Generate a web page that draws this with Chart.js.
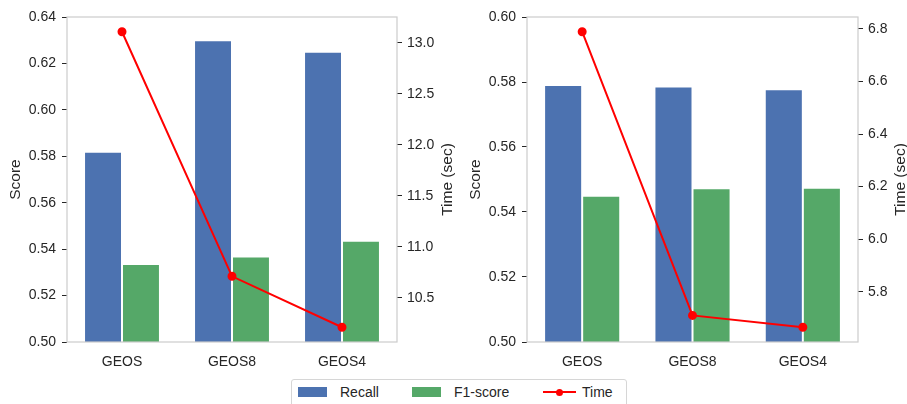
<!DOCTYPE html>
<html>
<head>
<meta charset="utf-8">
<script src="https://cdn.jsdelivr.net/npm/chart.js@4.4.1/dist/chart.umd.min.js"></script>
<style>
    html, body { margin: 0; padding: 0; background: #fff; }
    body { width: 907px; height: 404px; position: relative; overflow: hidden; font-family: "Liberation Sans", Arial, sans-serif; }
    canvas { position: absolute; top: 0; }
    #leftChart { left: 0; }
    #rightChart { left: 445px; }
    #legend { position: absolute; left: 291px; top: 379px; width: 334px; height: 34px; border: 1px solid #d6d6d6; border-radius: 3px; background: #fff; font-size: 14px; color: #262626; }
    #legend .sw { position: absolute; top: 7px; width: 29px; height: 10px; }
    #legend .txt { position: absolute; top: 4px; line-height: 16px; }
    #legend .ln { position: absolute; top: 11px; width: 33px; height: 2px; background: #ff0000; }
    #legend .dot { position: absolute; top: 8.5px; width: 7px; height: 7px; border-radius: 50%; background: #ff0000; }
</style>
</head>
<body>
<canvas id="leftChart" width="465" height="375"></canvas>
<canvas id="rightChart" width="462" height="375"></canvas>
<div id="legend">
    <div class="sw" style="left:6px; background:#4c72b0;"></div>
    <div class="txt" style="left:48px;">Recall</div>
    <div class="sw" style="left:120px; background:#55a868;"></div>
    <div class="txt" style="left:162px;">F1-score</div>
    <div class="ln" style="left:251px;"></div>
    <div class="dot" style="left:264px;"></div>
    <div class="txt" style="left:290px;">Time</div>
</div>
<script>
const categories = ['GEOS', 'GEOS8', 'GEOS4'];

// left panel
const recallLeft = [0.582, 0.630, 0.625];
const f1Left = [0.5336, 0.5368, 0.5436];
const timeLeft = [13.11, 10.71, 10.21];
const scoreTicksLeft = [0.50, 0.52, 0.54, 0.56, 0.58, 0.60, 0.62, 0.64];
const timeTicksLeft = [10.5, 11.0, 11.5, 12.0, 12.5, 13.0];

// right panel
const recallRight = [0.5791, 0.5786, 0.5778];
const f1Right = [0.5450, 0.5473, 0.5475];
const timeRight = [6.789, 5.710, 5.665];
const scoreTicksRight = [0.50, 0.52, 0.54, 0.56, 0.58, 0.60];
const timeTicksRight = [5.8, 6.0, 6.2, 6.4, 6.6, 6.8];

const FONT = '"Liberation Sans", Arial, sans-serif';
Chart.defaults.font.family = FONT;
Chart.defaults.font.size = 14;
Chart.defaults.color = '#262626';

// frame around plot + axis titles rotated like matplotlib (both read bottom to top)
const frameAndTitles = {
    id: 'frameAndTitles',
    afterDatasetsDraw(chart) {
        const { ctx, chartArea: a } = chart;
        ctx.save();
        ctx.strokeStyle = '#cccccc';
        ctx.lineWidth = 1.2;
        ctx.strokeRect(a.left, a.top, a.width, a.height);
        ctx.restore();
    },
    afterDraw(chart) {
        const { ctx, chartArea: a } = chart;
        ctx.save();
        ctx.font = '14px ' + FONT;
        const widest = (scale) => Math.max(...scale.ticks.map(t => ctx.measureText(t.label).width));
        const lx = a.left - 5 - 6 - widest(chart.scales.y) - 4 - 9;
        const rx = a.right + 5 + 5 + widest(chart.scales.y1) + 4 + 9;
        const midY = (a.top + a.bottom) / 2;
        ctx.font = '15.5px ' + FONT;
        ctx.fillStyle = '#262626';
        ctx.textAlign = 'center';
        ctx.textBaseline = 'middle';
        [[lx, 'Score'], [rx, 'Time (sec)']].forEach(([x, text]) => {
            ctx.save();
            ctx.translate(x, midY);
            ctx.rotate(-Math.PI / 2);
            ctx.fillText(text, 0, 0);
            ctx.restore();
        });
        ctx.restore();
    }
};

function makeChart(id, recall, f1, time, scoreTicks, timeTicks, timeMin, timeMax, leftW, rightW) {
    const ctx = document.getElementById(id).getContext('2d');
    return new Chart(ctx, {
        data: {
            labels: categories,
            datasets: [
                {
                    type: 'line',
                    label: 'Time',
                    data: time,
                    yAxisID: 'y1',
                    borderColor: '#ff0000',
                    backgroundColor: '#ff0000',
                    borderWidth: 2,
                    pointRadius: 3.5,
                    tension: 0,
                    order: 0
                },
                {
                    type: 'bar',
                    label: 'Recall',
                    data: recall,
                    yAxisID: 'y',
                    backgroundColor: '#4c72b0',
                    borderColor: '#ffffff',
                    borderWidth: 1,
                    barPercentage: 1.0,
                    categoryPercentage: 0.69,
                    order: 1
                },
                {
                    type: 'bar',
                    label: 'F1-score',
                    data: f1,
                    yAxisID: 'y',
                    backgroundColor: '#55a868',
                    borderColor: '#ffffff',
                    borderWidth: 1,
                    barPercentage: 1.0,
                    categoryPercentage: 0.69,
                    order: 1
                }
            ]
        },
        options: {
            responsive: false,
            animation: false,
            layout: { padding: { top: 17, left: 0, right: 0, bottom: 0 } },
            plugins: {
                legend: { display: false },
                tooltip: { enabled: false }
            },
            scales: {
                x: {
                    grid: { display: false },
                    border: { display: false },
                    ticks: { padding: 4, color: '#262626' },
                    afterFit: s => { s.height = 33; }
                },
                y: {
                    position: 'left',
                    min: scoreTicks[0],
                    max: scoreTicks[scoreTicks.length - 1],
                    grid: { drawOnChartArea: false, drawTicks: true, tickLength: 5, tickColor: '#262626' },
                    border: { display: false },
                    ticks: { padding: 6, color: '#262626', callback: v => v.toFixed(2) },
                    afterBuildTicks: s => { s.ticks = scoreTicks.map(v => ({ value: v })); },
                    afterFit: s => { s.width = leftW; }
                },
                y1: {
                    position: 'right',
                    min: timeMin,
                    max: timeMax,
                    grid: { drawOnChartArea: false, drawTicks: true, tickLength: 5, tickColor: '#262626' },
                    border: { display: false },
                    ticks: { padding: 5, color: '#262626', callback: v => v.toFixed(1) },
                    afterBuildTicks: s => { s.ticks = timeTicks.map(v => ({ value: v })); },
                    afterFit: s => { s.width = rightW; }
                }
            }
        },
        plugins: [frameAndTitles]
    });
}

makeChart('leftChart', recallLeft, f1Left, timeLeft, scoreTicksLeft, timeTicksLeft, 10.065, 13.255, 67, 68);
makeChart('rightChart', recallRight, f1Right, timeRight, scoreTicksRight, timeTicksRight, 5.609, 6.845, 82, 49);
</script>
</body>
</html>
